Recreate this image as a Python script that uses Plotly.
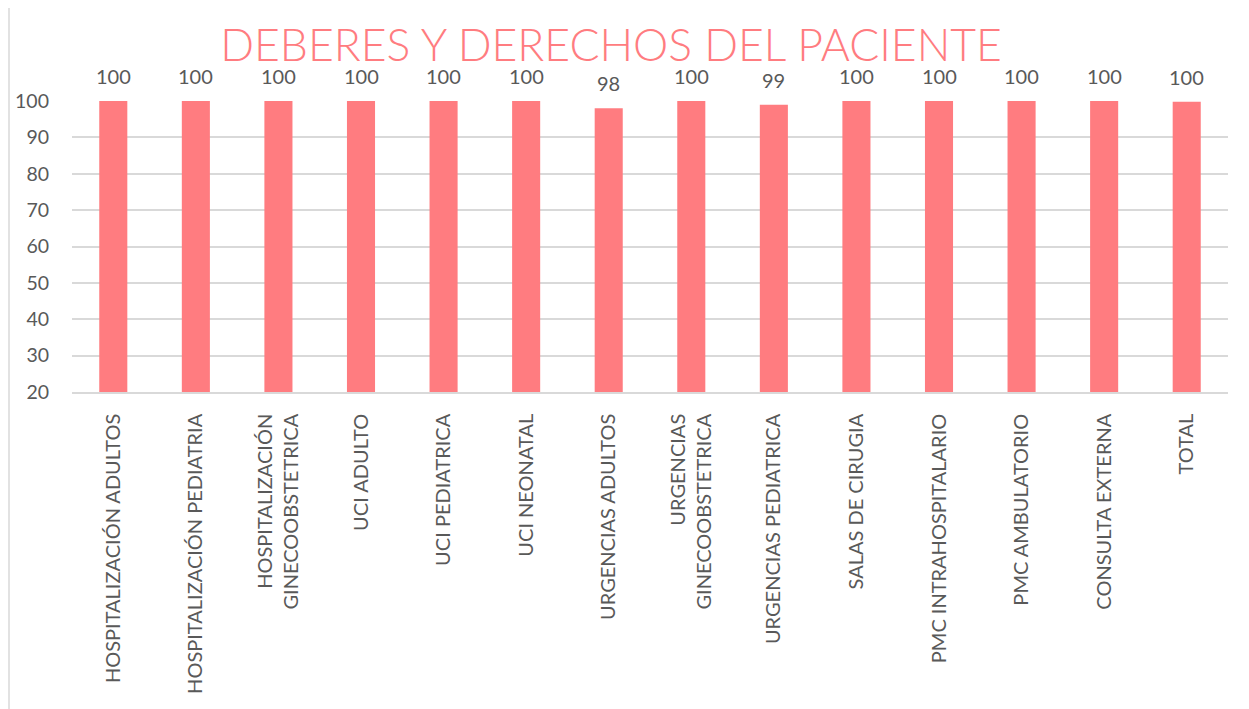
import plotly.graph_objects as go

categories = [
    "HOSPITALIZACIÓN ADULTOS",
    "HOSPITALIZACIÓN PEDIATRIA",
    "HOSPITALIZACIÓN<br>GINECOOBSTETRICA",
    "UCI ADULTO",
    "UCI PEDIATRICA",
    "UCI NEONATAL",
    "URGENCIAS ADULTOS",
    "URGENCIAS<br>GINECOOBSTETRICA",
    "URGENCIAS PEDIATRICA",
    "SALAS DE CIRUGIA",
    "PMC INTRAHOSPITALARIO",
    "PMC AMBULATORIO",
    "CONSULTA EXTERNA",
    "TOTAL",
]
values = [100, 100, 100, 100, 100, 100, 98, 100, 99, 100, 100, 100, 100, 99.8]
y_ticks = [20, 30, 40, 50, 60, 70, 80, 90, 100]

BAR = "#FF7C80"
TXT = "#595959"
FONT = "Lato"

fig = go.Figure(
    go.Bar(
        x=categories,
        y=values,
        marker=dict(color=BAR, line=dict(width=0)),
        width=0.34,
        hoverinfo="x+y",
    )
)

# page body has an 8px margin
OFF = 8
W, H = 1249 - OFF, 709 - OFF
L, R, T = 72 - OFF, 21, 101 - OFF
ph = 291
B = H - T - ph
pw = W - L - R

for c, v in zip(categories, values):
    fig.add_annotation(
        x=c, y=v, xref="x", yref="y",
        text=f"{v:.0f}", showarrow=False,
        yanchor="middle", yshift=25,
        font=dict(family=FONT, size=20, color=TXT),
    )

fig.update_layout(
    width=W,
    height=H,
    margin=dict(l=L, r=R, t=T, b=B),
    paper_bgcolor="white",
    plot_bgcolor="white",
    showlegend=False,
    title=dict(
        text="DEBERES Y DERECHOS DEL PACIENTE",
        x=(611 - OFF - L) / pw, xanchor="center", xref="paper",
        y=1 - (45 - OFF) / H, yanchor="middle", yref="container",
        font=dict(family=FONT, size=44.5, color=BAR, weight=300),
    ),
    xaxis=dict(
        tickangle=-90,
        tickfont=dict(family=FONT, size=20, color=TXT),
        showgrid=False,
        showline=True,
        linecolor="#D9D9D9",
        linewidth=1.5,
        ticks="",
        ticklabelstandoff=12,
        automargin=False,
    ),
    yaxis=dict(
        range=[20, 100],
        tickvals=y_ticks,
        tickfont=dict(family=FONT, size=19.5, color=TXT),
        showgrid=True,
        gridcolor="#D9D9D9",
        gridwidth=1.5,
        zeroline=False,
        showline=False,
        ticks="",
        ticklabelstandoff=22,
        automargin=False,
    ),
    shapes=[
        dict(
            type="rect",
            xref="paper", yref="paper",
            x0=(9 - OFF - L) / pw, x1=(1247 - OFF - L) / pw,
            y0=(T + ph - (715 - OFF)) / ph, y1=(T + ph - (5 - OFF)) / ph,
            line=dict(color="#D9D9D9", width=1.5),
            fillcolor="rgba(0,0,0,0)",
            layer="below",
        )
    ],
)

fig.write_html("out.html")
